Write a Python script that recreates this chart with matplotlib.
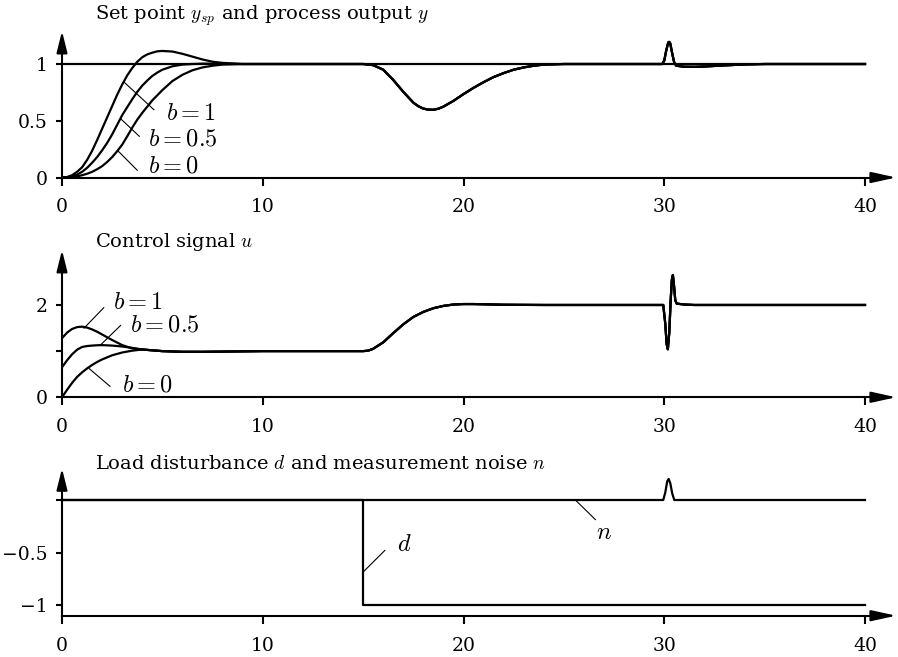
import matplotlib
matplotlib.use("Agg")
import matplotlib.pyplot as plt

plt.rcParams["font.family"] = ["DejaVu Serif"]
plt.rcParams["mathtext.fontset"] = "cm"

# ---- Set point and process output, start-up part (depends on set point weight b)
t_start = [0, 0.25, 0.5, 0.75, 1, 1.25, 1.5, 1.75, 2, 2.25, 2.5, 2.75, 3, 3.25,
           3.5, 3.75, 4, 4.25, 4.5, 4.75, 5, 5.5, 6, 6.5, 7, 7.5, 8, 9, 10]
y_b1 = [0, 0.004, 0.02, 0.05, 0.09, 0.155, 0.235, 0.33, 0.43, 0.53, 0.63, 0.73,
        0.82, 0.90, 0.965, 1.02, 1.06, 1.085, 1.10, 1.112, 1.115, 1.11, 1.09,
        1.065, 1.04, 1.02, 1.01, 1.0, 1.0]
y_b05 = [0, 0.002, 0.01, 0.025, 0.05, 0.085, 0.13, 0.18, 0.24, 0.305, 0.38,
         0.465, 0.55, 0.62, 0.69, 0.755, 0.81, 0.855, 0.895, 0.925, 0.95, 0.98,
         0.995, 1.0, 1.003, 1.003, 1.002, 1.0, 1.0]
y_b0 = [0, 0.001, 0.004, 0.01, 0.02, 0.033, 0.05, 0.073, 0.10, 0.137, 0.18,
        0.232, 0.29, 0.363, 0.44, 0.51, 0.57, 0.625, 0.68, 0.725, 0.77, 0.85,
        0.905, 0.945, 0.97, 0.985, 0.995, 1.0, 1.0]

# ---- Process output after t = 10 (common to all b): load step and noise pulse
t_y_rest = [11, 13, 15, 15.5, 16, 16.5, 17, 17.5, 17.75, 18, 18.25, 18.5, 18.75,
            19, 19.5, 20, 20.5, 21, 21.5, 22, 22.5, 23, 23.5, 24, 25, 27, 29.9,
            30.0, 30.1, 30.2, 30.25, 30.3, 30.4, 30.5, 30.6, 31, 31.5, 32, 33,
            34, 35, 40]
y_rest = [1.0, 1.0, 1.0, 0.99, 0.95, 0.86, 0.755, 0.66, 0.628, 0.607, 0.598,
          0.597, 0.606, 0.625, 0.675, 0.735, 0.79, 0.84, 0.885, 0.92, 0.95,
          0.97, 0.985, 0.995, 1.0, 1.0, 1.0, 1.03, 1.12, 1.19, 1.195, 1.18,
          1.09, 1.01, 0.985, 0.976, 0.975, 0.978, 0.988, 0.996, 1.0, 1.0]

t_sp = [0, 40]
y_sp = [1, 1]

# ---- Control signal, start-up part
t_u_start = [0, 0.25, 0.5, 0.75, 1, 1.25, 1.5, 1.75, 2, 2.5, 3, 3.5, 4, 5, 6,
             7, 8, 9, 10]
u_b1 = [1.28, 1.40, 1.48, 1.52, 1.53, 1.51, 1.47, 1.42, 1.36, 1.24, 1.13,
        1.06, 1.035, 1.0, 0.985, 0.985, 0.99, 0.995, 1.0]
u_b05 = [0.65, 0.80, 0.93, 1.03, 1.09, 1.11, 1.12, 1.127, 1.13, 1.12, 1.10,
         1.07, 1.035, 1.0, 0.985, 0.985, 0.99, 0.995, 1.0]
u_b0 = [0, 0.16, 0.31, 0.44, 0.54, 0.625, 0.70, 0.765, 0.82, 0.91, 0.97, 1.01,
        1.035, 1.0, 0.985, 0.985, 0.99, 0.995, 1.0]

# ---- Control signal after t = 10
t_u_rest = [11, 13, 15, 15.25, 15.5, 16, 16.5, 17, 17.5, 18, 18.5, 19, 19.5,
            20, 20.5, 21, 22, 24, 26, 28, 29.95, 30.05, 30.12, 30.18, 30.25,
            30.32, 30.38, 30.43, 30.48, 30.55, 30.62, 30.8, 31, 31.5, 33, 35, 40]
u_rest = [1.0, 1.0, 1.0, 1.01, 1.05, 1.19, 1.39, 1.58, 1.74, 1.85, 1.93, 1.98,
          2.01, 2.02, 2.02, 2.015, 2.005, 2.0, 2.0, 2.0, 2.0, 1.6, 1.15, 1.04,
          1.4, 2.1, 2.55, 2.65, 2.45, 2.1, 2.03, 2.02, 2.01, 2.0, 2.0, 2.0, 2.0]

# ---- Load disturbance and measurement noise
t_d = [0, 15, 15, 40]
d = [0, 0, -1, -1]
t_n = [0, 29.95, 30.05, 30.15, 30.22, 30.3, 30.4, 30.5, 40]
n = [0, 0, 0.07, 0.18, 0.20, 0.16, 0.06, 0, 0]

x_ticks = [0, 10, 20, 30, 40]
x_ticklabels = ["0", "10", "20", "30", "40"]

W, H = 898, 657
fig = plt.figure(figsize=(W / 100, H / 100), dpi=100)

XMAX = 41.7
PX_PER_T = 20.075
LEFT_PX = 62.0


def make_axes(y_top_px, y_bot_px):
    width_px = XMAX * PX_PER_T
    return fig.add_axes([LEFT_PX / W, 1 - y_bot_px / H, width_px / W,
                         (y_bot_px - y_top_px) / H])


LW_AX = 1.5
LW = 1.6
ARROW = dict(arrowstyle="-|>,head_length=1.0,head_width=0.22",
             mutation_scale=15, lw=LW_AX, color="k", shrinkA=0, shrinkB=0)
ARROW_Y = dict(arrowstyle="-|>,head_length=1.0,head_width=0.25",
               mutation_scale=13, lw=LW_AX, color="k", shrinkA=0, shrinkB=0)


def style_axes(ax, ylim, x_axis_y, y_top, yticks, yticklabels):
    ax.set_xlim(0, XMAX)
    ax.set_ylim(*ylim)
    for s in ("top", "right"):
        ax.spines[s].set_visible(False)
    ax.spines["bottom"].set_position(("data", x_axis_y))
    ax.spines["left"].set_position(("data", 0))
    ax.spines["bottom"].set_bounds(0, 40.5)
    ax.spines["left"].set_bounds(x_axis_y, y_top - 0.05 * (ylim[1] - ylim[0]))
    for s in ("bottom", "left"):
        ax.spines[s].set_linewidth(LW_AX)
    ax.annotate("", xy=(41.55, x_axis_y), xytext=(40.4, x_axis_y),
                arrowprops=ARROW, annotation_clip=False)
    ax.annotate("", xy=(0, y_top),
                xytext=(0, y_top - 0.1 * (ylim[1] - ylim[0])),
                arrowprops=ARROW_Y, annotation_clip=False)
    ax.set_xticks(x_ticks)
    ax.set_xticklabels(x_ticklabels)
    ax.set_yticks(yticks)
    ax.set_yticklabels(yticklabels)
    ax.tick_params(axis="x", direction="out", length=5.5, width=LW_AX,
                   labelsize=13.5, pad=9.5)
    ax.tick_params(axis="y", direction="out", length=4, width=LW_AX,
                   labelsize=13.5, pad=6)
    ax.patch.set_visible(False)


def leader(ax, x0, y0, x1, y1):
    ax.plot([x0, x1], [y0, y1], color="k", lw=0.8, solid_capstyle="butt")


LBL = 17.5

# ---------------- Panel 1
ax1 = make_axes(27.7, 188.85)
style_axes(ax1, (-0.1, 1.32), 0, 1.29, [0, 0.5, 1], ["0", "0.5", "1"])
ax1.plot(t_sp, y_sp, color="k", lw=LW)
for yb in (y_b1, y_b05, y_b0):
    ax1.plot(t_start + t_y_rest, yb + y_rest, color="k", lw=LW)
leader(ax1, 3.07, 0.844, 4.6, 0.594)
leader(ax1, 2.91, 0.52, 3.87, 0.36)
leader(ax1, 2.74, 0.243, 3.77, 0.06)
ax1.text(5.2, 0.565, r"$b=1$", fontsize=LBL, va="center", ha="left")
ax1.text(4.3, 0.34, r"$b=0.5$", fontsize=LBL, va="center", ha="left")
ax1.text(4.3, 0.10, r"$b=0$", fontsize=LBL, va="center", ha="left")

# ---------------- Panel 2
ax2 = make_axes(247.3, 408.8)
style_axes(ax2, (-0.25, 3.25), 0, 3.19, [0, 1, 2], ["0", "", "2"])
for ub in (u_b1, u_b05, u_b0):
    ax2.plot(t_u_start + t_u_rest, ub + u_rest, color="k", lw=LW)
leader(ax2, 1.08, 1.49, 2.1, 1.95)
leader(ax2, 1.91, 1.13, 2.94, 1.565)
leader(ax2, 1.33, 0.63, 2.41, 0.23)
ax2.text(2.55, 2.06, r"$b=1$", fontsize=LBL, va="center", ha="left")
ax2.text(3.4, 1.56, r"$b=0.5$", fontsize=LBL, va="center", ha="left")
ax2.text(2.98, 0.27, r"$b=0$", fontsize=LBL, va="center", ha="left")

# ---------------- Panel 3
ax3 = make_axes(465.3, 626.2)
style_axes(ax3, (-1.2, 0.33), -1.1, 0.30, [0, -0.5, -1],
           ["", "\u22120.5", "\u22121"])
ax3.plot(t_d, d, color="k", lw=LW)
ax3.plot(t_n, n, color="k", lw=LW)
leader(ax3, 15.01, -0.683, 16.1, -0.476)
leader(ax3, 25.61, -0.007, 26.59, -0.19)
ax3.text(16.7, -0.42, r"$d$", fontsize=LBL, va="center", ha="left")
ax3.text(26.6, -0.31, r"$n$", fontsize=LBL, va="center", ha="left")

# ---------------- Panel titles
TS = 14
fig.text(95 / W, 1 - 20 / H, r"Set point $y_{sp}$ and process output $y$",
         fontsize=TS, va="baseline", ha="left")
fig.text(95 / W, 1 - 246.7 / H, r"Control signal $u$",
         fontsize=TS, va="baseline", ha="left")
fig.text(95 / W, 1 - 469.3 / H,
         r"Load disturbance $d$ and measurement noise $n$",
         fontsize=TS, va="baseline", ha="left")

fig.savefig("out.png", dpi=100)
